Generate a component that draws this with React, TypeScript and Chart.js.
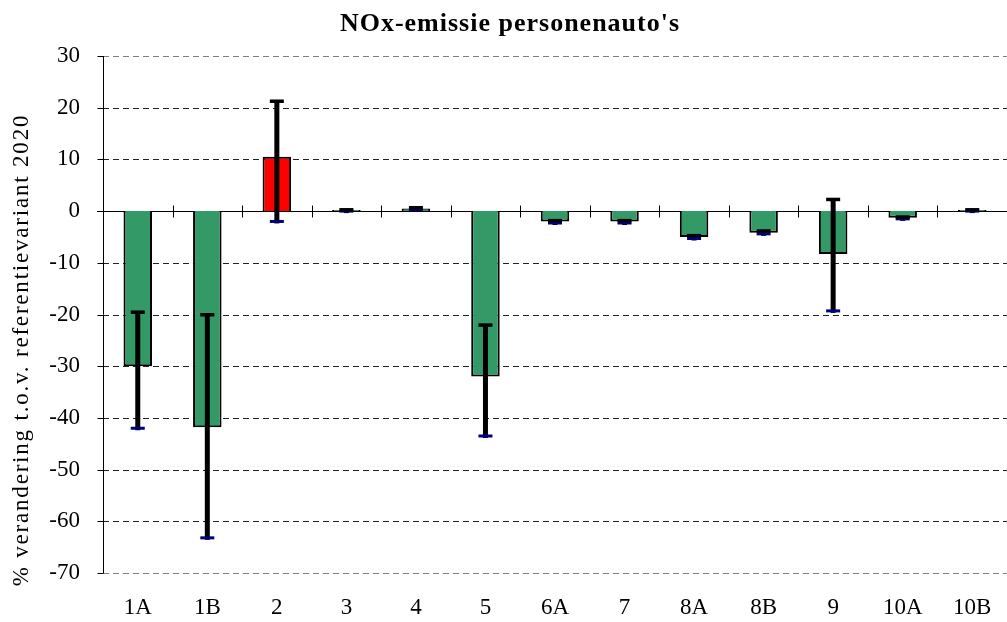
import React, { useEffect, useRef } from "react";
import { Chart, registerables } from "chart.js";

Chart.register(...registerables);

const chartTitle = "NOx-emissie personenauto's";
const yAxisTitle = "% verandering t.o.v. referentievariant 2020";
const categories = ["1A", "1B", "2", "3", "4", "5", "6A", "7", "8A", "8B", "9", "10A", "10B"];
const values = [-30, -41.8, 10.5, 0.2, 0.5, -32, -2, -2, -5, -4.2, -8.3, -1.3, 0.2];
const errLow = [-42, -63.2, -2, 0, 0.3, -43.5, -2.3, -2.3, -5.3, -4.4, -19.3, -1.5, 0];
const errHigh = [-19.5, -20, 21.3, 0.3, 0.7, -22, -1.8, -1.8, -4.7, -3.8, 2.3, -1.1, 0.3];
const highlighted = "2";
const yMin = -70;
const yMax = 30;
const yStep = 10;

const FONT = "'Liberation Serif', 'Times New Roman', serif";

export default function App() {
  const ref = useRef<HTMLCanvasElement | null>(null);

  useEffect(() => {
    document.body.style.margin = "0";
    const canvas = ref.current;
    if (!canvas) return;

    const framePlugin = {
      id: "frame",
      beforeDatasetsDraw(chart: any) {
        const { ctx, chartArea, scales } = chart;
        const y = scales.y;
        const x = scales.x;
        ctx.save();
        for (let v = yMin; v <= yMax; v += yStep) {
          if (v === 0) continue;
          const py = Math.round(y.getPixelForValue(v)) + 0.5;
          ctx.beginPath();
          ctx.setLineDash([6, 4]);
          ctx.strokeStyle = v === yMin || v === yMax ? "#808080" : "#222";
          ctx.lineWidth = 1;
          ctx.moveTo(chartArea.left, py);
          ctx.lineTo(chartArea.right, py);
          ctx.stroke();
        }
        ctx.setLineDash([]);
        ctx.strokeStyle = "#000";
        ctx.lineWidth = 1;
        const lx = Math.round(chartArea.left) + 0.5;
        ctx.beginPath();
        ctx.moveTo(lx, chartArea.top);
        ctx.lineTo(lx, chartArea.bottom);
        for (let v = yMin; v <= yMax; v += yStep) {
          const py = Math.round(y.getPixelForValue(v)) + 0.5;
          ctx.moveTo(lx - 6, py);
          ctx.lineTo(lx, py);
        }
        ctx.stroke();
        const zy = Math.round(y.getPixelForValue(0)) + 0.5;
        ctx.beginPath();
        ctx.moveTo(chartArea.left - 6, zy);
        ctx.lineTo(chartArea.right, zy);
        for (let i = 0; i <= categories.length; i++) {
          const px = Math.round(x.getPixelForValue(i - 0.5)) + 0.5;
          ctx.moveTo(px, zy - 6);
          ctx.lineTo(px, zy + 6);
        }
        ctx.stroke();
        ctx.restore();
      },
      afterDatasetsDraw(chart: any) {
        const { ctx, scales } = chart;
        const y = scales.y;
        const x = scales.x;
        ctx.save();
        categories.forEach((_, i) => {
          const px = x.getPixelForValue(i);
          const top = y.getPixelForValue(errHigh[i]);
          const bot = y.getPixelForValue(errLow[i]);
          ctx.fillStyle = "#000";
          ctx.fillRect(px - 2.5, top, 5, bot - top + 2);
          ctx.fillStyle = "#000080";
          ctx.fillRect(px - 7, bot - 1.5, 14, 3);
          ctx.fillStyle = "#000";
          ctx.fillRect(px - 7, top - 1.5, 14, 3.5);
        });
        ctx.fillStyle = "#000";
        ctx.textAlign = "center";
        ctx.textBaseline = "middle";
        (ctx as any).letterSpacing = "1px";
        ctx.font = `bold 26px ${FONT}`;
        ctx.fillText(chartTitle, 510, 24);
        (ctx as any).letterSpacing = "1.8px";
        ctx.font = `23px ${FONT}`;
        ctx.translate(22, 350);
        ctx.rotate(-Math.PI / 2);
        ctx.fillText(yAxisTitle, 0, 0);
        ctx.restore();
      },
    };

    const chart = new Chart(canvas, {
      type: "bar",
      data: {
        labels: categories,
        datasets: [
          {
            data: values,
            backgroundColor: categories.map((c) => (c === highlighted ? "#FF0000" : "#339966")),
            borderColor: "#000",
            borderWidth: 2,
            categoryPercentage: 1,
            barPercentage: 0.41,
          },
        ],
      },
      options: {
        animation: false,
        responsive: false,
        maintainAspectRatio: false,
        layout: { padding: { top: 56, right: 0, bottom: 0, left: 0 } },
        plugins: {
          legend: { display: false },
          title: { display: false },
          tooltip: { enabled: false },
        },
        scales: {
          x: {
            grid: { display: false },
            border: { display: false },
            ticks: {
              color: "#000",
              font: { family: FONT, size: 23 },
              padding: 13,
              maxRotation: 0,
            },
            afterFit: (s: any) => {
              s.height = 49;
            },
          },
          y: {
            min: yMin,
            max: yMax,
            grid: { display: false },
            border: { display: false },
            ticks: {
              stepSize: yStep,
              color: "#000",
              font: { family: FONT, size: 23 },
              padding: 15,
            },
            afterFit: (s: any) => {
              s.width = 103;
            },
          },
        },
      },
      plugins: [framePlugin],
    });
    return () => chart.destroy();
  }, []);

  return (
    <div style={{ position: "absolute", left: 0, top: 0, width: 1007, height: 622 }}>
      <canvas ref={ref} width={1007} height={622} style={{ width: 1007, height: 622 }} />
    </div>
  );
}
